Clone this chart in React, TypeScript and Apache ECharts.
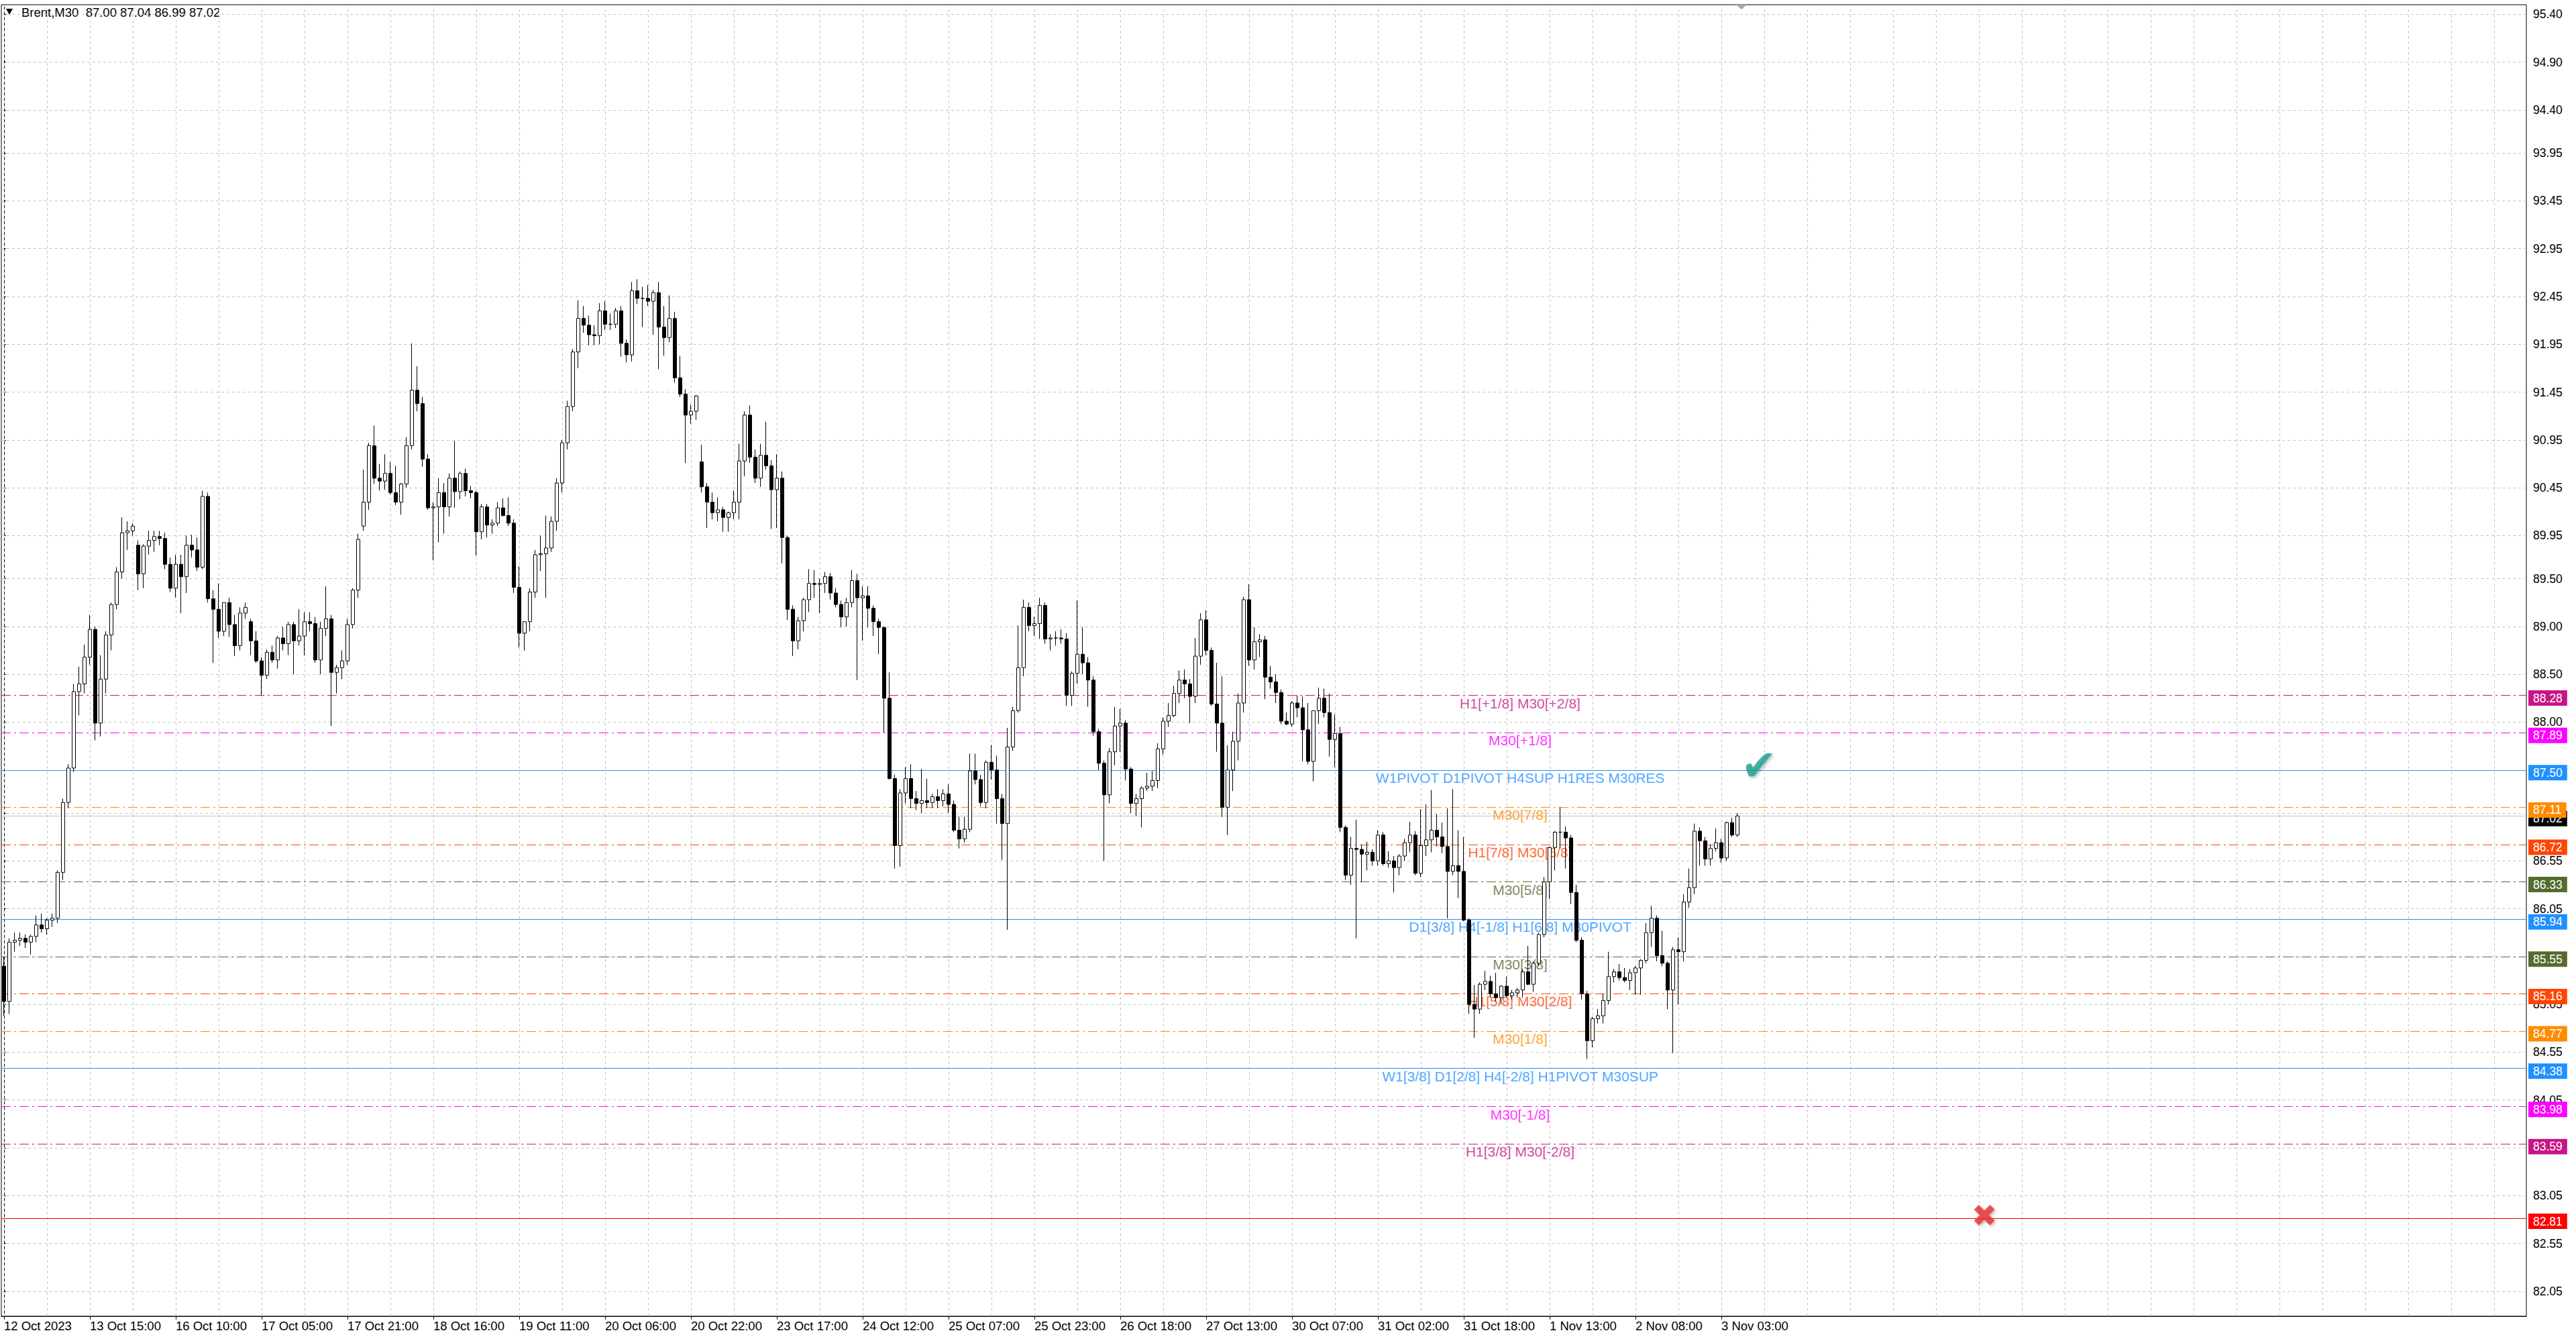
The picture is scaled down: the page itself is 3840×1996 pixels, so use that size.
import React, { useEffect, useRef } from 'react';
import * as echarts from 'echarts';

// one candle per hour (two M30 bars of the screen)
const opens = [
  85.45, 85.08, 85.70, 85.72, 85.74, 85.70, 85.76, 85.88, 85.84, 85.93,
  85.95, 86.43, 87.16, 87.52, 88.32, 88.40, 88.68, 88.97, 87.99, 88.45,
  88.91, 89.23, 89.57, 89.98, 90.00, 89.85, 89.55, 89.84, 89.90, 89.94,
  89.92, 89.65, 89.40, 89.65, 89.52, 89.85, 89.80, 89.62, 90.36, 89.29,
  89.18, 88.95, 89.25, 89.02, 88.80, 89.14, 89.05, 88.85, 88.64, 88.49,
  88.73, 88.65, 88.88, 88.82, 89.02, 88.85, 88.90, 89.05, 89.03, 88.65,
  88.98, 89.08, 88.52, 88.57, 88.64, 89.02, 89.38, 90.05, 90.30, 90.89,
  90.55, 90.52, 90.60, 90.40, 90.30, 90.49, 90.89, 91.47, 91.33, 90.75,
  90.24, 90.25, 90.40, 90.25, 90.55, 90.41, 90.60, 90.42, 90.40, 89.99,
  90.25, 90.06, 90.08, 90.24, 90.16, 90.08, 89.41, 88.93, 89.05, 89.36,
  89.75, 89.76, 89.82, 90.10, 90.50, 90.92, 91.30, 91.87, 92.22, 92.15,
  92.05, 92.04, 92.30, 92.16, 92.16, 92.30, 91.96, 91.84, 92.51, 92.43,
  92.43, 92.40, 92.49, 92.13, 92.02, 92.22, 91.60, 91.43, 91.21, 91.25,
  90.72, 90.46, 90.30, 90.19, 90.22, 90.14, 90.19, 90.30, 90.73, 91.21,
  90.77, 90.55, 90.79, 90.68, 90.43, 90.55, 89.93, 89.18, 88.85, 89.06,
  89.28, 89.45, 89.44, 89.45, 89.52, 89.35, 89.23, 89.10, 89.25, 89.48,
  89.30, 89.32, 89.19, 89.05, 88.99, 88.25, 87.41, 86.71, 87.26, 87.41,
  87.20, 87.15, 87.18, 87.16, 87.22, 87.18, 87.25, 87.14, 86.87, 86.78,
  86.88, 87.49, 87.40, 87.16, 87.58, 87.50, 87.20, 86.94, 87.74, 88.12,
  88.57, 89.20, 89.01, 89.03, 89.22, 88.87, 88.88, 88.88, 88.87, 88.28,
  88.51, 88.71, 88.62, 88.44, 87.90, 87.57, 87.24, 87.69, 87.96, 87.99,
  87.51, 87.15, 87.20, 87.31, 87.33, 87.39, 87.72, 88.01, 88.07, 88.30,
  88.44, 88.40, 88.27, 88.69, 89.07, 88.75, 88.19, 87.99, 87.11, 87.50,
  87.80, 88.20, 89.28, 88.65, 88.84, 88.86, 88.47, 88.42, 88.31, 88.01,
  87.98, 88.20, 88.15, 87.92, 87.59, 88.12, 88.25, 88.10, 87.82, 87.88,
  86.90, 86.40, 86.68, 86.67, 86.62, 86.64, 86.55, 86.82, 86.52, 86.55,
  86.48, 86.60, 86.74, 86.82, 86.42, 86.71, 86.77, 86.87, 86.80, 86.70,
  86.44, 86.50, 86.44, 85.93, 85.05, 85.00, 85.26, 85.29, 85.16, 85.12,
  85.24, 85.14, 85.17, 85.20, 85.39, 85.26, 85.48, 85.78, 86.33, 86.69,
  86.85, 86.85, 86.79, 86.22, 85.72, 85.16, 84.67, 84.90, 84.93, 85.09,
  85.34, 85.39, 85.33, 85.30, 85.38, 85.43, 85.51, 85.80, 85.95, 85.56,
  85.48, 85.20, 85.62, 85.60, 86.12, 86.27, 86.86, 86.76, 86.57, 86.68,
  86.74, 86.58, 86.95, 86.82,
];

const highs = [
  85.55, 85.74, 85.80, 85.80, 85.78, 85.78, 85.98, 86.00, 85.95, 86.00,
  86.45, 87.20, 87.56, 88.40, 88.58, 88.81, 89.12, 89.00, 88.70, 88.95,
  89.25, 89.62, 90.14, 90.10, 90.08, 89.90, 89.86, 90.00, 90.00, 90.00,
  89.98, 89.72, 89.75, 89.75, 89.95, 89.96, 89.93, 90.42, 90.40, 89.38,
  89.45, 89.25, 89.30, 89.12, 89.20, 89.25, 89.08, 88.95, 88.68, 88.76,
  88.80, 88.90, 89.00, 89.05, 89.05, 89.18, 89.15, 89.15, 89.10, 89.05,
  89.42, 89.12, 88.60, 88.75, 89.08, 89.40, 89.97, 90.64, 90.92, 91.10,
  90.70, 90.80, 90.72, 90.68, 90.50, 90.98, 91.96, 91.72, 91.40, 90.80,
  90.30, 90.55, 90.50, 90.60, 90.94, 90.62, 90.65, 90.47, 90.42, 90.28,
  90.28, 90.12, 90.30, 90.34, 90.35, 90.12, 89.63, 89.05, 89.40, 89.80,
  89.95, 90.16, 90.15, 90.55, 90.95, 91.36, 91.90, 92.41, 92.35, 92.25,
  92.15, 92.38, 92.40, 92.27, 92.33, 92.35, 92.00, 92.60, 92.63, 92.55,
  92.57, 92.52, 92.60, 92.35, 92.46, 92.29, 91.83, 91.48, 91.32, 91.42,
  90.90, 90.50, 90.40, 90.35, 90.25, 90.20, 90.42, 90.91, 91.25, 91.31,
  90.85, 90.91, 91.14, 90.74, 90.80, 90.62, 89.95, 89.22, 89.10, 89.30,
  89.60, 89.59, 89.50, 89.57, 89.56, 89.40, 89.27, 89.30, 89.59, 89.55,
  89.42, 89.42, 89.22, 89.08, 89.00, 88.52, 87.45, 87.30, 87.53, 87.56,
  87.28, 87.51, 87.41, 87.25, 87.30, 87.30, 87.35, 87.18, 87.01, 87.01,
  87.67, 87.67, 87.45, 87.60, 87.76, 87.65, 87.25, 87.94, 88.16, 89.01,
  89.28, 89.25, 89.10, 89.30, 89.25, 88.92, 88.95, 88.97, 88.93, 88.53,
  89.27, 88.99, 88.68, 88.48, 87.93, 87.60, 87.73, 88.16, 88.14, 88.02,
  87.53, 87.25, 87.33, 87.47, 87.49, 87.78, 88.05, 88.20, 88.38, 88.54,
  88.55, 88.45, 88.88, 89.14, 89.17, 88.78, 88.62, 88.48, 87.76, 87.90,
  88.30, 89.31, 89.44, 88.99, 88.92, 88.90, 88.59, 88.50, 88.34, 88.10,
  88.22, 88.28, 88.27, 88.20, 88.12, 88.36, 88.35, 88.30, 88.08, 87.95,
  86.92, 86.80, 86.98, 86.72, 86.75, 86.67, 86.87, 86.85, 86.65, 86.60,
  86.62, 86.78, 86.96, 86.86, 87.09, 87.14, 87.29, 87.04, 86.95, 87.10,
  87.30, 86.87, 86.80, 85.95, 85.25, 85.28, 85.40, 85.35, 85.38, 85.25,
  85.34, 85.20, 85.22, 85.42, 85.66, 85.50, 85.80, 86.38, 86.70, 86.86,
  87.11, 86.91, 86.82, 86.30, 85.75, 85.19, 84.92, 85.00, 85.16, 85.60,
  85.42, 85.47, 85.43, 85.42, 85.45, 85.52, 85.90, 86.08, 85.98, 85.82,
  85.50, 85.65, 85.75, 86.20, 86.47, 86.94, 86.90, 86.80, 86.72, 86.89,
  86.78, 86.96, 87.00, 87.05,
];

const lows = [
  84.93, 84.95, 85.60, 85.66, 85.64, 85.57, 85.70, 85.80, 85.78, 85.86,
  85.90, 86.35, 87.10, 87.48, 88.07, 88.30, 88.60, 87.81, 87.85, 88.30,
  88.75, 89.18, 89.50, 89.80, 89.95, 89.38, 89.40, 89.75, 89.78, 89.85,
  89.60, 89.36, 89.30, 89.14, 89.35, 89.72, 89.58, 89.60, 89.25, 88.62,
  88.88, 88.90, 88.89, 88.69, 88.75, 89.08, 88.70, 88.62, 88.28, 88.45,
  88.62, 88.56, 88.75, 88.70, 88.50, 88.80, 88.70, 88.95, 88.62, 88.50,
  88.90, 87.96, 88.30, 88.45, 88.60, 88.98, 89.30, 90.00, 90.22, 90.49,
  90.42, 90.43, 90.38, 90.27, 90.17, 90.45, 90.85, 91.25, 90.67, 90.22,
  89.69, 89.88, 89.97, 90.15, 90.24, 90.33, 90.36, 90.34, 89.74, 89.91,
  89.93, 89.97, 90.05, 90.15, 90.05, 89.35, 88.78, 88.75, 88.95, 89.30,
  89.58, 89.30, 89.78, 90.00, 90.40, 90.85, 91.25, 91.70, 92.07, 91.94,
  91.94, 91.95, 92.10, 92.10, 92.12, 91.82, 91.76, 91.77, 92.37, 92.13,
  92.35, 92.05, 91.69, 91.83, 91.97, 91.55, 91.40, 90.71, 91.12, 91.16,
  90.40, 90.03, 90.12, 90.10, 89.99, 89.99, 90.12, 90.12, 90.57, 90.71,
  90.50, 90.46, 90.64, 90.02, 90.03, 89.66, 89.07, 88.69, 88.76, 88.95,
  89.15, 89.30, 89.14, 89.35, 89.28, 89.20, 88.99, 89.00, 89.20, 88.44,
  88.85, 88.99, 88.90, 88.71, 87.89, 87.40, 86.47, 86.49, 87.15, 87.10,
  87.08, 87.05, 87.10, 87.10, 87.10, 87.12, 87.05, 86.85, 86.68, 86.74,
  86.85, 87.35, 87.12, 87.10, 87.40, 86.94, 86.56, 85.83, 87.70, 88.10,
  88.48, 88.95, 88.90, 88.87, 88.82, 88.75, 88.80, 88.82, 88.17, 88.17,
  88.40, 88.50, 88.16, 87.86, 87.50, 86.55, 87.15, 87.55, 87.69, 87.39,
  87.05, 87.02, 86.90, 87.28, 87.28, 87.31, 87.66, 87.95, 88.05, 88.20,
  88.25, 87.99, 88.20, 88.60, 88.70, 88.17, 87.69, 87.01, 86.82, 87.28,
  87.60, 88.10, 88.59, 88.55, 88.68, 88.24, 88.35, 88.20, 87.98, 87.97,
  87.95, 88.05, 87.59, 87.56, 87.38, 87.98, 88.05, 87.64, 87.53, 86.85,
  86.35, 86.30, 85.74, 86.33, 86.45, 86.50, 86.50, 86.50, 86.48, 86.22,
  86.40, 86.55, 86.64, 86.40, 86.38, 86.60, 86.64, 86.70, 86.63, 85.95,
  86.40, 86.16, 85.92, 84.95, 84.70, 84.95, 85.20, 85.12, 85.08, 85.05,
  85.12, 85.10, 85.12, 85.12, 85.25, 85.18, 85.45, 85.75, 86.15, 86.45,
  86.68, 86.47, 86.10, 85.70, 85.10, 84.48, 84.60, 84.85, 84.85, 85.05,
  85.28, 85.30, 85.28, 85.20, 85.15, 85.15, 85.48, 85.65, 85.50, 85.45,
  85.00, 84.54, 85.05, 85.50, 86.06, 86.20, 86.50, 86.50, 86.50, 86.65,
  86.53, 86.55, 86.80, 86.80,
];

const closes = [
  85.08, 85.70, 85.72, 85.74, 85.70, 85.76, 85.88, 85.84, 85.93, 85.95,
  86.43, 87.16, 87.52, 88.32, 88.40, 88.68, 88.97, 87.99, 88.45, 88.91,
  89.23, 89.57, 89.98, 90.00, 90.05, 89.55, 89.84, 89.90, 89.94, 89.92,
  89.65, 89.40, 89.65, 89.52, 89.85, 89.80, 89.62, 90.36, 89.29, 89.18,
  88.95, 89.25, 89.02, 88.80, 89.14, 89.20, 88.85, 88.64, 88.49, 88.73,
  88.65, 88.88, 88.82, 89.02, 88.85, 88.90, 89.05, 89.03, 88.65, 88.98,
  89.08, 88.52, 88.57, 88.64, 89.02, 89.38, 89.91, 90.30, 90.89, 90.55,
  90.52, 90.60, 90.40, 90.30, 90.49, 90.89, 91.47, 91.33, 90.75, 90.24,
  90.25, 90.40, 90.25, 90.55, 90.41, 90.60, 90.42, 90.40, 89.99, 90.25,
  90.06, 90.08, 90.24, 90.16, 90.08, 89.41, 88.93, 89.05, 89.36, 89.75,
  89.76, 89.82, 90.10, 90.50, 90.92, 91.30, 91.87, 92.22, 92.15, 92.05,
  92.04, 92.30, 92.16, 92.16, 92.30, 91.96, 91.84, 92.51, 92.43, 92.43,
  92.40, 92.49, 92.13, 92.02, 92.22, 91.60, 91.43, 91.21, 91.25, 91.41,
  90.46, 90.30, 90.19, 90.22, 90.14, 90.19, 90.30, 90.73, 91.21, 90.77,
  90.55, 90.79, 90.68, 90.43, 90.55, 89.93, 89.18, 88.85, 89.06, 89.28,
  89.45, 89.44, 89.45, 89.52, 89.35, 89.23, 89.10, 89.25, 89.48, 89.30,
  89.32, 89.19, 89.05, 88.99, 88.25, 87.41, 86.71, 87.26, 87.41, 87.20,
  87.15, 87.18, 87.16, 87.22, 87.18, 87.25, 87.14, 86.87, 86.78, 86.88,
  87.49, 87.40, 87.16, 87.58, 87.50, 87.20, 86.94, 87.74, 88.12, 88.57,
  89.20, 89.01, 89.03, 89.22, 88.87, 88.88, 88.88, 88.87, 88.28, 88.51,
  88.71, 88.62, 88.44, 87.90, 87.57, 87.24, 87.69, 87.96, 87.99, 87.51,
  87.15, 87.20, 87.31, 87.33, 87.39, 87.72, 88.01, 88.07, 88.30, 88.44,
  88.40, 88.27, 88.69, 89.07, 88.75, 88.19, 87.99, 87.11, 87.50, 87.80,
  88.20, 89.28, 88.65, 88.84, 88.86, 88.47, 88.42, 88.31, 88.01, 87.98,
  88.20, 88.15, 87.92, 87.59, 88.12, 88.25, 88.10, 87.82, 87.88, 86.90,
  86.40, 86.68, 86.67, 86.62, 86.64, 86.55, 86.82, 86.52, 86.55, 86.48,
  86.60, 86.74, 86.82, 86.42, 86.71, 86.77, 86.87, 86.80, 86.70, 86.44,
  86.50, 86.44, 85.93, 85.05, 85.00, 85.26, 85.29, 85.16, 85.12, 85.24,
  85.14, 85.17, 85.20, 85.39, 85.26, 85.48, 85.78, 86.33, 86.69, 86.85,
  86.85, 86.79, 86.22, 85.72, 85.16, 84.67, 84.90, 84.93, 85.09, 85.34,
  85.39, 85.33, 85.30, 85.38, 85.43, 85.51, 85.80, 85.95, 85.56, 85.48,
  85.20, 85.62, 85.60, 86.12, 86.27, 86.86, 86.76, 86.57, 86.68, 86.74,
  86.58, 86.95, 86.82, 87.02,
];

const timeLabels = [
  '12 Oct 2023', '13 Oct 15:00', '16 Oct 10:00', '17 Oct 05:00', '17 Oct 21:00',
  '18 Oct 16:00', '19 Oct 11:00', '20 Oct 06:00', '20 Oct 22:00', '23 Oct 17:00',
  '24 Oct 12:00', '25 Oct 07:00', '25 Oct 23:00', '26 Oct 18:00', '27 Oct 13:00',
  '30 Oct 07:00', '31 Oct 02:00', '31 Oct 18:00', '1 Nov 13:00', '2 Nov 08:00',
  '3 Nov 03:00',
];

const priceTicks = [
  95.40, 94.90, 94.40, 93.95, 93.45, 92.95, 92.45, 91.95, 91.45, 90.95,
  90.45, 89.95, 89.50, 89.00, 88.50, 88.00, 87.50, 87.05, 86.55, 86.05,
  85.55, 85.05, 84.55, 84.05, 83.55, 83.05, 82.55, 82.05,
];

// murrey / pivot levels drawn on the chart
const levelValues = [88.28, 87.89, 87.50, 87.11, 86.72, 86.33, 85.94, 85.55, 85.16, 84.77, 84.38, 83.98, 83.59];
const levelNames = [
  'H1[+1/8] M30[+2/8]',
  'M30[+1/8]',
  'W1PIVOT D1PIVOT H4SUP H1RES M30RES',
  'M30[7/8]',
  'H1[7/8] M30[6/8]',
  'M30[5/8]',
  'D1[3/8] H4[-1/8] H1[6/8] M30PIVOT',
  'M30[3/8]',
  'H1[5/8] M30[2/8]',
  'M30[1/8]',
  'W1[3/8] D1[2/8] H4[-2/8] H1PIVOT M30SUP',
  'M30[-1/8]',
  'H1[3/8] M30[-2/8]',
];
const levelColors = [
  '#C71585', '#FF00FF', '#1E90FF', '#FF8C00', '#FF4500', '#556B2F', '#1E90FF',
  '#556B2F', '#FF4500', '#FF8C00', '#1E90FF', '#FF00FF', '#C71585',
];
const levelSolid = [false, false, true, false, false, false, true, false, false, false, true, false, false];

const stopLevel = 82.81;
const currentPrice = 87.02;
const titleOHLC = ['87.00', '87.04', '86.99', '87.02'];

const takeProfitMark = [327, 87.55];
const stopLossMark = [369, 82.84];

const labelStep = 16; // candles between two time labels
const gridStep = 8;   // candles between two vertical grid lines
const lastSlot = 470; // right edge of the chart, in candles (chart shift included)
const levelTextSlot = 282.5;

export default function App() {
  const chartRef = useRef<HTMLDivElement>(null);

  useEffect(() => {
    if (!chartRef.current) return;
    document.body.style.margin = '0';
    const chart = echarts.init(chartRef.current, null, { renderer: 'svg' });

    const candles = opens.map((o, i) => [i, o, closes[i], lows[i], highs[i]]);
    const labelSlots = timeLabels.map((_, k) => k * labelStep);

    const gridLines: any[] = priceTicks.map((v) => ({ yAxis: v }));
    for (let s = 0; s <= lastSlot; s += gridStep) gridLines.push({ xAxis: s });

    const dashDot = [14, 5, 3, 5];
    const levelLines: any[] = [
      { yAxis: currentPrice, lineStyle: { color: '#c0c0c0', type: 'solid' }, label: { backgroundColor: '#000' } },
      ...levelValues.map((v, i) => ({
        yAxis: v,
        lineStyle: { color: levelColors[i], type: levelSolid[i] ? 'solid' : dashDot },
        label: { backgroundColor: levelColors[i] },
      })),
      { yAxis: stopLevel, lineStyle: { color: '#ff0000', type: 'solid' }, label: { backgroundColor: '#ff0000' } },
    ];

    const option = {
      animation: false,
      backgroundColor: '#fff',
      textStyle: { fontFamily: 'Liberation Sans' },
      grid: {
        left: 2, top: 7, width: 3764, height: 1955,
        show: true, borderColor: '#000', borderWidth: 1, backgroundColor: '#fff',
      },
      xAxis: {
        type: 'value',
        min: -0.5,
        max: lastSlot,
        axisLine: { show: true, lineStyle: { color: '#000' } },
        axisTick: { show: true, customValues: labelSlots, length: 5, lineStyle: { color: '#000' } },
        axisLabel: {
          customValues: labelSlots,
          formatter: (v: number) => timeLabels[Math.round(v / labelStep)] ?? '',
          align: 'left',
          color: '#000',
          fontSize: 18.5,
          margin: 5,
        },
        splitLine: { show: false },
      },
      yAxis: {
        type: 'value',
        position: 'right',
        min: 81.79,
        max: 95.5,
        axisLine: { show: true, lineStyle: { color: '#000' } },
        axisTick: { show: true, customValues: priceTicks, length: 3, lineStyle: { color: '#000' } },
        axisLabel: {
          customValues: priceTicks,
          formatter: (v: number) => v.toFixed(2),
          color: '#000',
          fontSize: 17.5,
          margin: 10,
        },
        splitLine: { show: false },
      },
      graphic: [
        { type: 'polygon', shape: { points: [[9, 13], [19, 13], [14, 22]] }, style: { fill: '#000' } },
        {
          type: 'text', left: 32, top: 9,
          style: { text: `Brent,M30  ${titleOHLC.join(' ')}`, fill: '#000', fontSize: 18.5, fontFamily: 'Liberation Sans' },
        },
        { type: 'polygon', shape: { points: [[2588, 7], [2604, 7], [2596, 14]] }, style: { fill: '#a8a8a8' } },
      ],
      series: [
        {
          type: 'candlestick',
          z: 3,
          data: candles,
          barWidth: 5,
          silent: true,
          itemStyle: { color: '#fff', color0: '#000', borderColor: '#000', borderColor0: '#000', borderWidth: 1 },
          markLine: {
            z: 1,
            silent: true,
            symbol: 'none',
            label: { show: false },
            lineStyle: { color: '#c4c4c4', type: [4, 4], width: 1 },
            data: gridLines,
          },
        },
        {
          type: 'scatter',
          z: 2,
          symbolSize: 0,
          silent: true,
          data: levelValues.map((v, i) => ({ value: [levelTextSlot, v], name: levelNames[i], label: { color: levelColors[i] } })),
          label: { show: true, position: 'bottom', distance: 1, formatter: '{b}', fontSize: 21 },
          markLine: {
            z: 2,
            silent: true,
            symbol: 'none',
            lineStyle: { width: 1 },
            label: {
              show: true,
              position: 'end',
              distance: 3,
              color: '#fff',
              fontSize: 17.5,
              padding: [3, 7, 2, 7],
              offset: [0, 4],
              formatter: (p: any) => Number(p.value).toFixed(2),
            },
            data: levelLines,
          },
        },
        {
          type: 'scatter',
          z: 6,
          symbolSize: 0,
          silent: true,
          data: [
            { value: takeProfitMark, label: { formatter: '\u2714', color: '#17a08f', fontSize: 64 } },
            { value: stopLossMark, label: { formatter: '\u2716', color: '#e8302f', fontSize: 46 } },
          ],
          label: {
            show: true,
            position: 'inside',
            fontFamily: 'DejaVu Sans',
            textShadowColor: 'rgba(0,0,0,0.35)',
            textShadowBlur: 4,
            textShadowOffsetX: 2,
            textShadowOffsetY: 2,
          },
        },
      ],
    };

    chart.setOption(option as any);

    return () => {
      chart.dispose();
    };
  }, []);

  return (
    <div>
      <div ref={chartRef} style={{ width: '3840px', height: '1996px' }} />
    </div>
  );
}
